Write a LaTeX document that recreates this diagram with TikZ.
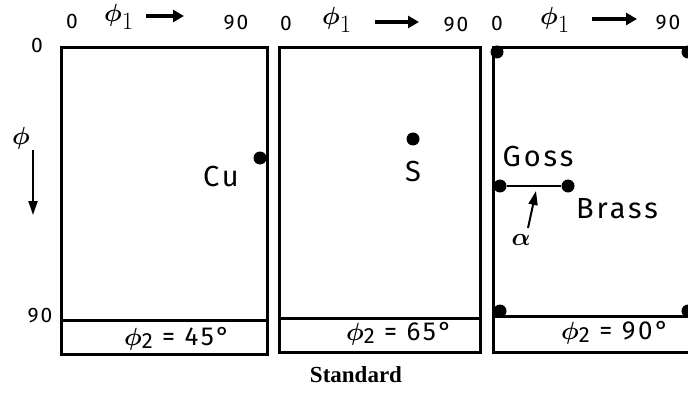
\documentclass[tikz,border=0pt]{standalone}
\usepackage{fontspec}
\usepackage{bm}
\setmainfont{Liberation Serif}
\newfontfamily\handfont[LetterSpace=10]{Fira Sans}
\usetikzlibrary{arrows.meta}
\newcommand{\bigphi}[1]{{\fontsize{#1}{#1}\selectfont$\bm{\phi}$}}
\tikzset{
  frame/.style={line width=3pt},
  lab/.style={font=\handfont\fontsize{21}{21}\selectfont, inner sep=0pt},
  big/.style={font=\handfont\fontsize{29}{29}\selectfont, inner sep=0pt},
  phitwo/.style={font=\handfont\fontsize{26}{26}\selectfont, inner sep=0pt},
  phi/.style={font=\fontsize{42}{42}\selectfont, inner sep=0pt},
  pt/.style={circle, fill=black, inner sep=0pt, minimum size=13pt},
  harrow/.style={line width=3.5pt, -{Triangle[length=11pt,width=12pt]}},
  varrow/.style={line width=2pt, -{Triangle[length=14pt,width=9pt]}}
}
\begin{document}
\begin{tikzpicture}[x=1pt,y=-1pt]
\clip (0,0) rectangle (688,393);
\fill[white] (0,0) rectangle (688,393);
% panels
\draw[frame] (61,48) rectangle (267,354);
\draw[frame] (61,320) -- (267,320);
\draw[frame] (279,48) rectangle (480,352);
\draw[frame] (279,318) -- (480,318);
\draw[frame] (493,48) rectangle (720,352);
\draw[frame] (493,316) -- (720,316);
% top labels
\node[lab] (za) at (72,21) {0};
\node[phi] (pa) at (119,17) {$\bm{\phi}_{1}$};
\coordinate (asa) at (146,16); \coordinate (aea) at (184,16);
\draw[harrow] (asa) -- (aea);
\node[lab] (na) at (236,23) {90};
\node[lab] (zb) at (286,23) {0};
\node[phi] (pb) at (337,20) {$\bm{\phi}_{1}$};
\coordinate (asb) at (375,22); \coordinate (aeb) at (419,22);
\draw[harrow] (asb) -- (aeb);
\node[lab] (nb) at (456,25) {90};
\node[lab] (zc) at (497,23) {0};
\node[phi] (pc) at (555,20) {$\bm{\phi}_{1}$};
\coordinate (asc) at (592,19); \coordinate (aec) at (637,19);
\draw[harrow] (asc) -- (aec);
\node[lab] (nc) at (668,23) {90};
% left axis
\node[lab] (zl) at (37,45) {0};
\node[phi] (pl) at (21,138) {$\bm{\phi}$};
\coordinate (vs) at (33,150); \coordinate (ve) at (33,215);
\draw[varrow] (vs) -- (ve);
\node[lab] (nl) at (40,316) {90};
% Cu
\node[pt] (cu) at (260,158) {};
\node[big] (cut) at (221,177) {Cu};
% S
\node[pt] (s) at (413,139) {};
\node[big] (st) at (413,172) {S};
% third panel
\node[pt] (c1) at (497,52) {};
\node[pt] (c2) at (688,52) {};
\node[pt] (c3) at (500,311) {};
\node[pt] (c4) at (688,311) {};
\node[big] (gt) at (538,157) {Goss};
\node[pt] (goss) at (500,186) {};
\node[pt] (brass) at (568,186) {};
\draw[line width=2pt] (goss) -- (brass);
\node[big] (bt) at (617,209) {Brass};
\node[phi] (al) at (521,240) {$\bm{\alpha}$};
\coordinate (al0) at (528,228); \coordinate (al1) at (536,191);
\draw[varrow] (al0) -- (al1);
% phi2 labels
\node[phitwo] (f1) at (177,339) {\bigphi{38}\raisebox{-3pt}{\fontsize{22}{22}\selectfont 2} = 45°};
\node[phitwo] (f2) at (399,334) {\bigphi{38}\raisebox{-3pt}{\fontsize{22}{22}\selectfont 2} = 65°};
\node[phitwo] (f3) at (615,333) {\bigphi{38}\raisebox{-3pt}{\fontsize{22}{22}\selectfont 2} = 90°};
% caption
\node[inner sep=0pt, font=\bfseries\fontsize{23}{23}\selectfont] (cap) at (356,375) {Standard};
\end{tikzpicture}
\end{document}
